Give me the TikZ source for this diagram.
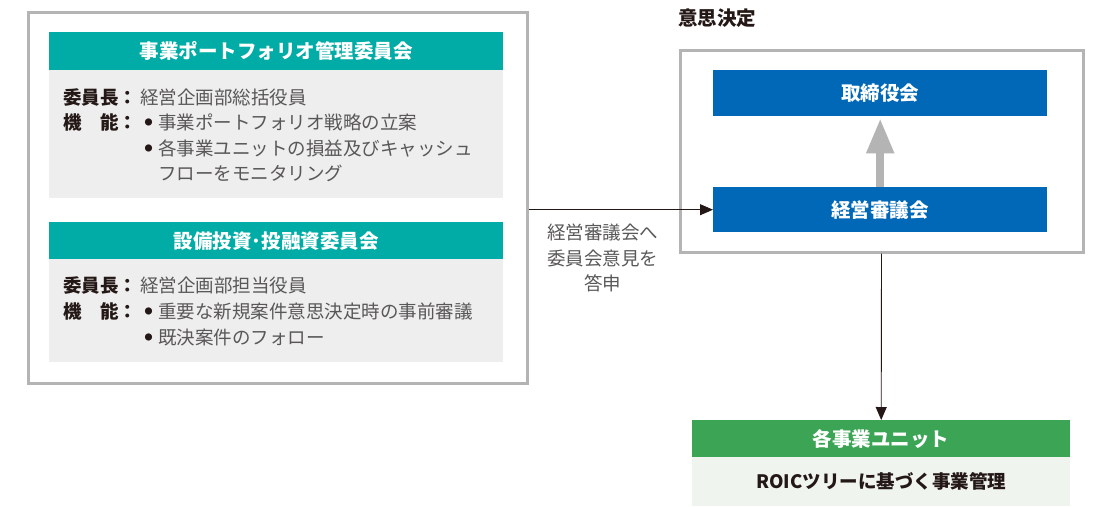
\documentclass[tikz,border=0pt]{standalone}
\usepackage{fontspec}
\setmainfont{Noto Sans CJK JP}
\usetikzlibrary{arrows.meta}
\definecolor{teal1}{HTML}{00ACA5}
\definecolor{blue1}{HTML}{0068B6}
\definecolor{green1}{HTML}{3BA555}
\definecolor{frame1}{HTML}{B4B4B4}
\definecolor{body1}{HTML}{EEEEEE}
\definecolor{body2}{HTML}{EFF4EF}
\definecolor{ink}{HTML}{231815}
\definecolor{gtext}{HTML}{595757}
\tikzset{
  frame/.style={draw=frame1, line width=3pt, fill=white, inner sep=0pt, anchor=north west},
  head/.style={fill=#1, text=white, inner sep=0pt, anchor=north west, font=\fontsize{19.5}{22}\selectfont\bfseries},
  bodybox/.style={fill=#1, inner sep=0pt, anchor=north west},
  lbl/.style={inner sep=0pt, anchor=west, text=ink, font=\fontsize{18.5}{22}\selectfont\bfseries},
  val/.style={inner sep=0pt, anchor=west, text=gtext, font=\fontsize{18.5}{22}\selectfont},
  bul/.style={inner sep=0pt, text=ink, font=\fontsize{8}{9}\selectfont},
  conn/.style={draw=ink, line width=0.9pt, -{Triangle[length=13pt,width=11pt]}},
}
\begin{document}
\begin{tikzpicture}[x=1pt,y=-1pt]
\useasboundingbox (0,0) rectangle (1094,506);
% left frame
\node[frame, minimum width=499pt, minimum height=371pt] (leftbox) at (26.5,10.5) {};
% committee 1
\node[head=teal1, minimum width=454pt, minimum height=38pt] (h1) at (49,32) {事業ポートフォリオ管理委員会};
\node[bodybox=body1, minimum width=454pt, minimum height=128pt] (b1) at (49,70) {};
\node[lbl] (l11) at (63,97) {委員長：};
\node[val] (v11) at (140,97) {経営企画部総括役員};
\node[lbl] (l12) at (63,122) {機　能：};
\node[bul] (d12) at (148.5,122) {●};
\node[val] (v12) at (158,122) {事業ポートフォリオ戦略の立案};
\node[bul] (d13) at (148.5,148) {●};
\node[val] (v13) at (158,148) {各事業ユニットの損益及びキャッシュ};
\node[val] (v14) at (158,173) {フローをモニタリング};
% committee 2
\node[head=teal1, minimum width=454pt, minimum height=37pt] (h2) at (49,222) {設備投資･投融資委員会};
\node[bodybox=body1, minimum width=454pt, minimum height=103pt] (b2) at (49,259) {};
\node[lbl] (l21) at (63,285) {委員長：};
\node[val] (v21) at (140,285) {経営企画部担当役員};
\node[lbl] (l22) at (63,311) {機　能：};
\node[bul] (d22) at (148.5,311) {●};
\node[val] (v22) at (158,311) {重要な新規案件意思決定時の事前審議};
\node[bul] (d23) at (148.5,337) {●};
\node[val] (v23) at (158,337) {既決案件のフォロー};
% decision
\node[inner sep=0pt, anchor=west, text=ink, font=\fontsize{19.5}{22}\selectfont\bfseries] (dtitle) at (678,18) {意思決定};
\node[frame, minimum width=403pt, minimum height=202pt] (rightbox) at (678.5,48.5) {};
\node[head=blue1, minimum width=334pt, minimum height=46pt] (board) at (713,70) {取締役会};
\node[head=blue1, minimum width=334pt, minimum height=45pt] (keiei) at (713,187) {経営審議会};
\draw[frame1, line width=8pt, -{Triangle[length=35pt,width=26pt]}, shorten >=2pt] (keiei.north) -- (board.south);
% connector to keiei
\draw[conn] (leftbox.east |- keiei.west) -- (keiei.west);
\node[align=center, inner sep=0pt, text=gtext, font=\fontsize{18.5}{25.5}\selectfont] (ans) at (602.5,258) {経営審議会へ\\委員会意見を\\答申};
% business units
\node[head=green1, minimum width=378pt, minimum height=37pt] (unit) at (692,420) {各事業ユニット};
\node[bodybox=body2, minimum width=378pt, minimum height=49pt, text=ink, font=\fontsize{18.5}{22}\selectfont\bfseries] (roic) at (692,457) {ROICツリーに基づく事業管理};
\draw[conn] (rightbox.south) -- (unit.north);
\end{tikzpicture}
\end{document}
